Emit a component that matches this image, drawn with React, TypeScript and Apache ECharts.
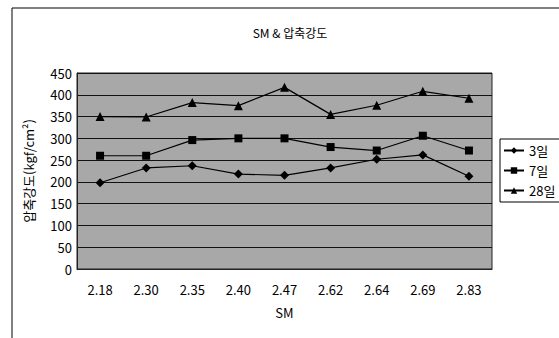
import React, { useEffect, useRef } from "react";
import * as echarts from "echarts";

const categories = ["2.18", "2.30", "2.35", "2.40", "2.47", "2.62", "2.64", "2.69", "2.83"];
const day3 = [198, 232, 237, 218, 215, 232, 252, 262, 213];
const day7 = [260, 260, 296, 300, 300, 280, 272, 306, 272];
const day28 = [350, 349, 382, 375, 417, 355, 376, 408, 392];
const seriesNames = ["3일", "7일", "28일"];
const yTicks = { min: 0, max: 450, interval: 50 };

export default function App() {
  const ref = useRef<HTMLDivElement>(null);
  useEffect(() => {
    const chart = echarts.init(ref.current!, null, { renderer: "svg" });
    const font = "'Liberation Sans Narrow', 'Noto Sans CJK KR', sans-serif";
    const mk = (name: string, data: number[], symbol: string, size: number) => ({
      name,
      type: "line",
      data,
      symbol,
      symbolSize: size,
      lineStyle: { color: "#000", width: 1.2 },
      itemStyle: { color: "#000" },
    });
    chart.setOption({
      animation: false,
      backgroundColor: "#fff",
      title: {
        text: "SM & 압축강도",
        left: 285,
        top: 21,
        textAlign: "center",
        textStyle: { fontSize: 12, fontWeight: "normal", color: "#000", fontFamily: font },
      },
      graphic: [
        { type: "line", shape: { x1: 12, y1: 8, x2: 559, y2: 8 }, style: { stroke: "#000", lineWidth: 1 } },
        { type: "line", shape: { x1: 12, y1: 8, x2: 12, y2: 338 }, style: { stroke: "#000", lineWidth: 1 } },
      ],
      legend: {
        orient: "vertical",
        left: 500,
        top: 139,
        itemWidth: 20,
        itemHeight: 8,
        itemGap: 7,
        padding: [5, 20, 5, 3],
        borderColor: "#000",
        borderWidth: 1,
        backgroundColor: "#fff",
        textStyle: { fontSize: 13, color: "#000", fontFamily: font },
        data: seriesNames,
      },
      grid: { left: 77, top: 73, right: 67, bottom: 69, show: true, backgroundColor: "#a8a8a8", borderColor: "#222", borderWidth: 1 },
      xAxis: {
        type: "category",
        data: categories,
        name: "SM",
        nameLocation: "middle",
        nameGap: 37,
        nameTextStyle: { fontSize: 13, color: "#000", fontFamily: font },
        axisLine: { lineStyle: { color: "#222" } },
        axisTick: { show: false },
        axisLabel: { fontSize: 13, color: "#000", margin: 14, fontFamily: font },
      },
      yAxis: {
        type: "value",
        min: yTicks.min,
        max: yTicks.max,
        interval: yTicks.interval,
        name: "압축강도(kgf/cm²)",
        nameLocation: "middle",
        nameGap: 42,
        nameTextStyle: { fontSize: 13, color: "#000", fontFamily: font },
        axisLine: { show: true, lineStyle: { color: "#222" } },
        axisTick: { show: false },
        axisLabel: { fontSize: 13, color: "#000", margin: 5, fontFamily: font },
        splitLine: { lineStyle: { color: "#111", width: 1 } },
      },
      series: [
        mk(seriesNames[0], day3, "diamond", 9),
        mk(seriesNames[1], day7, "rect", 8),
        mk(seriesNames[2], day28, "triangle", 9),
      ],
    });
    return () => chart.dispose();
  }, []);
  return <div ref={ref} style={{ position: "fixed", left: 0, top: 0, width: 559, height: 338 }} />;
}
